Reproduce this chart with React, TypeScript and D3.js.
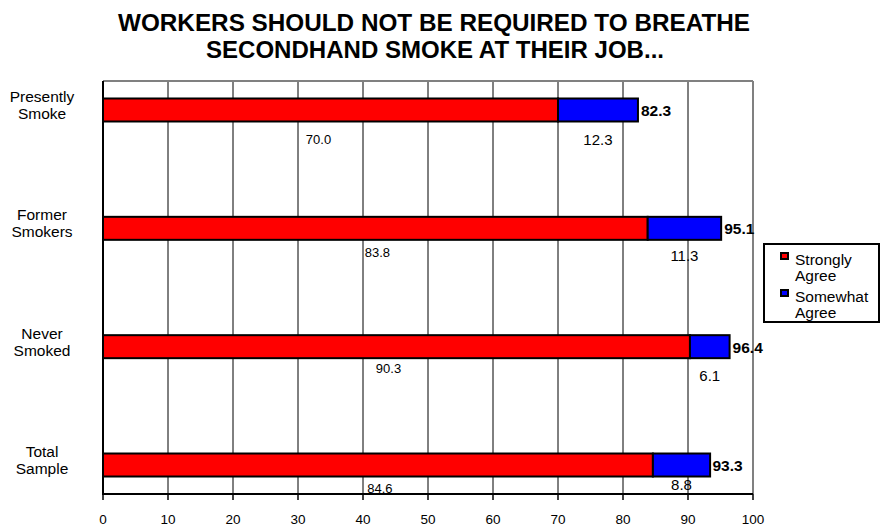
import React from "react";
import * as d3 from "d3";

// Survey groups, top to bottom
const categories = ["Presently Smoke", "Former Smokers", "Never Smoked", "Total Sample"];
const categoryLines = [["Presently", "Smoke"], ["Former", "Smokers"], ["Never", "Smoked"], ["Total", "Sample"]];
const stronglyAgree = [70.0, 83.8, 90.3, 84.6];
const somewhatAgree = [12.3, 11.3, 6.1, 8.8];
const totals = [82.3, 95.1, 96.4, 93.3];
const xTicks = [0, 10, 20, 30, 40, 50, 60, 70, 80, 90, 100];
const seriesNames = [["Strongly", "Agree"], ["Somewhat", "Agree"]];
const seriesColors = ["#FF0000", "#0000FF"];

// Per-bar placement of the segment labels (pixel offsets below bar centre)
const redLabelDy = [34, 29, 26, 28];
const redLabelDx = [-12, 2, -8, 2];
const blueLabelDy = [35, 33, 34, 25];

const W = 882;
const H = 527;
const plot = { left: 103, right: 753, top: 81, bottom: 494 };
const FONT = "'Liberation Sans', Arial, sans-serif";

export default function App() {
  const x = d3.scaleLinear().domain([0, 100]).range([plot.left, plot.right]);
  const y = d3
    .scalePoint<string>()
    .domain(categories)
    .range([plot.top, plot.bottom])
    .padding(0.245);
  const barH = 23;

  return (
    <div style={{ position: "fixed", left: 0, top: 0 }}>
      <svg width={W} height={H} style={{ display: "block", background: "#fff" }} fontFamily={FONT}>
        {/* title */}
        <text x={434} y={31} textAnchor="middle" fontSize={24} fontWeight="bold" fill="#000" textLength={632} lengthAdjust="spacingAndGlyphs">
          WORKERS SHOULD NOT BE REQUIRED TO BREATHE
        </text>
        <text x={435} y={58} textAnchor="middle" fontSize={24} fontWeight="bold" fill="#000" textLength={458} lengthAdjust="spacingAndGlyphs">
          SECONDHAND SMOKE AT THEIR JOB...
        </text>

        {/* vertical gridlines */}
        {xTicks.slice(1, -1).map((t) => (
          <line key={"g" + t} x1={x(t)} x2={x(t)} y1={plot.top} y2={plot.bottom} stroke="#000" strokeWidth={1} />
        ))}
        {/* plot frame: top and right in grey */}
        <line x1={plot.left} x2={plot.right} y1={plot.top} y2={plot.top} stroke="#808080" strokeWidth={2} />
        <line x1={plot.right} x2={plot.right} y1={plot.top} y2={plot.bottom} stroke="#808080" strokeWidth={2} />

        {/* stacked bars */}
        {categories.map((c, i) => {
          const cy = y(c) as number;
          return (
            <g key={c}>
              <rect
                x={x(0)}
                y={cy - barH / 2}
                width={x(stronglyAgree[i]) - x(0)}
                height={barH}
                fill={seriesColors[0]}
                stroke="#000"
                strokeWidth={2}
              />
              <rect
                x={x(stronglyAgree[i])}
                y={cy - barH / 2}
                width={x(stronglyAgree[i] + somewhatAgree[i]) - x(stronglyAgree[i])}
                height={barH}
                fill={seriesColors[1]}
                stroke="#000"
                strokeWidth={2}
              />
            </g>
          );
        })}

        {/* axes */}
        <line x1={plot.left} x2={plot.left} y1={plot.top} y2={plot.bottom + 1} stroke="#000" strokeWidth={2} />
        <line x1={plot.left - 1} x2={plot.right} y1={plot.bottom} y2={plot.bottom} stroke="#000" strokeWidth={2} />
        {xTicks.map((t) => (
          <g key={"t" + t}>
            <line x1={x(t)} x2={x(t)} y1={plot.bottom} y2={plot.bottom + 6} stroke="#000" strokeWidth={1.5} />
            <text x={x(t)} y={524} textAnchor="middle" fontSize={13.5} fill="#000">
              {t}
            </text>
          </g>
        ))}

        {/* category labels */}
        {categories.map((c, i) => {
          const cy = (y(c) as number) - 5;
          return (
            <text key={"c" + c} textAnchor="middle" fontSize={15.5} fill="#000">
              <tspan x={42} y={cy - 3}>{categoryLines[i][0]}</tspan>
              <tspan x={42} y={cy + 14}>{categoryLines[i][1]}</tspan>
            </text>
          );
        })}

        {/* value labels */}
        {categories.map((c, i) => {
          const cy = y(c) as number;
          const redMid = (x(0) + x(stronglyAgree[i])) / 2;
          const blueMid = (x(stronglyAgree[i]) + x(stronglyAgree[i] + somewhatAgree[i])) / 2;
          return (
            <g key={"v" + c}>
              <text x={redMid + redLabelDx[i]} y={cy + redLabelDy[i]} textAnchor="middle" fontSize={13} fill="#000">
                {stronglyAgree[i].toFixed(1)}
              </text>
              <text x={blueMid} y={cy + blueLabelDy[i]} textAnchor="middle" fontSize={15} fill="#000">
                {somewhatAgree[i].toFixed(1)}
              </text>
              <text x={x(totals[i]) + 3} y={cy + 6} fontSize={15.5} fontWeight="bold" fill="#000">
                {totals[i].toFixed(1)}
              </text>
            </g>
          );
        })}

        {/* legend */}
        <rect x={764} y={244} width={115} height={78} fill="#fff" stroke="#000" strokeWidth={2} />
        {seriesNames.map((lines, i) => {
          const top = 253 + i * 37;
          return (
            <g key={"l" + i}>
              <rect x={781} y={top} width={7} height={6} fill={seriesColors[i]} stroke="#000" strokeWidth={2} />
              <text fontSize={15.5} fill="#000">
                <tspan x={795} y={top + 12}>{lines[0]}</tspan>
                <tspan x={795} y={top + 28}>{lines[1]}</tspan>
              </text>
            </g>
          );
        })}
      </svg>
    </div>
  );
}
